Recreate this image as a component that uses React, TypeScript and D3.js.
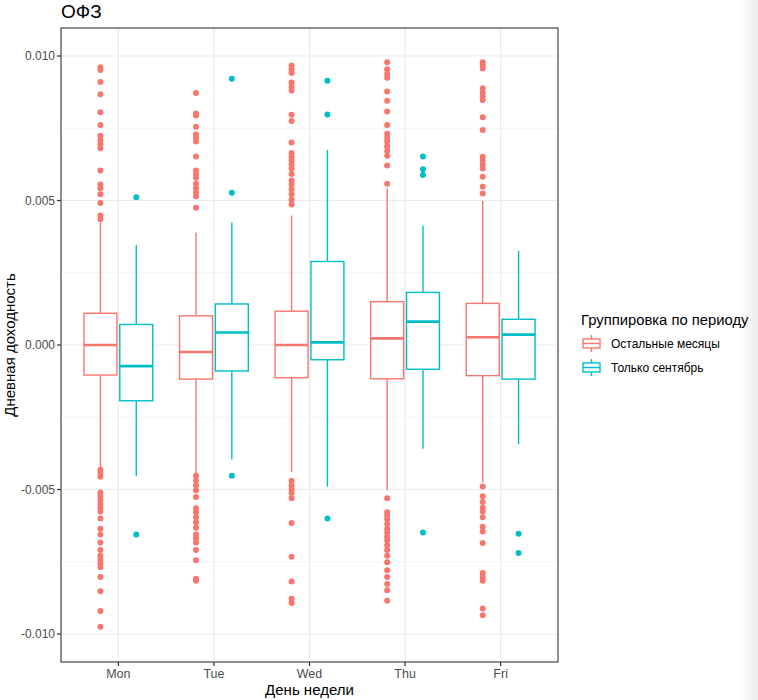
import React from "react";
import * as d3 from "d3";

const days = ["Mon", "Tue", "Wed", "Thu", "Fri"];
const groups = ["Остальные месяцы", "Только сентябрь"];
const groupColors = ["#F8766D", "#00BFC4"];
const yTicks = [-0.01, -0.005, 0, 0.005, 0.01];
const yTickLabels = ["-0.010", "-0.005", "0.000", "0.005", "0.010"];
const yMinorTicks = [-0.0075, -0.0025, 0.0025, 0.0075];

// Остальные месяцы
const otherQ1 = [-0.00104, -0.00118, -0.00113, -0.00117, -0.00106];
const otherMedian = [0.0, -0.00024, 0.0, 0.00023, 0.00027];
const otherQ3 = [0.0011, 0.00101, 0.00117, 0.0015, 0.00144];
const otherLow = [-0.00427, -0.00443, -0.0044, -0.00503, -0.00476];
const otherHigh = [0.00424, 0.00389, 0.00448, 0.00542, 0.00499];
const otherOutMon = [0.00961, 0.00952, 0.0091, 0.00868, 0.00805, 0.00761, 0.00724, 0.00708, 0.00695, 0.00681, 0.00604, 0.00555, 0.00542, 0.00522, 0.00491, 0.00448, 0.00435, -0.00432, -0.00443, -0.00456, -0.0051, -0.00523, -0.00536, -0.0055, -0.00563, -0.00576, -0.006, -0.00636, -0.00656, -0.00683, -0.00709, -0.00729, -0.00743, -0.00756, -0.00769, -0.00803, -0.00852, -0.0092, -0.00975];
const otherOutTue = [0.00872, 0.00801, 0.00794, 0.00755, 0.00728, 0.00717, 0.00704, 0.00652, 0.00604, 0.00592, 0.00579, 0.00558, 0.00542, 0.00528, 0.00515, 0.00475, -0.00452, -0.0047, -0.00486, -0.00503, -0.00526, -0.00565, -0.00579, -0.00596, -0.00613, -0.00632, -0.00656, -0.00669, -0.00683, -0.00709, -0.00745, -0.00809, -0.00816];
const otherOutWed = [0.00967, 0.00954, 0.00941, 0.00908, 0.00894, 0.00881, 0.00797, 0.00775, 0.00701, 0.00664, 0.00651, 0.00638, 0.00625, 0.00611, 0.00592, 0.00569, 0.00555, 0.00539, 0.00522, 0.00503, 0.00486, -0.0047, -0.00486, -0.00499, -0.00512, -0.0053, -0.00616, -0.00733, -0.00818, -0.00878, -0.00893];
const otherOutThu = [0.00978, 0.00954, 0.00938, 0.00925, 0.00877, 0.00845, 0.00808, 0.00761, 0.00731, 0.00717, 0.00704, 0.00688, 0.00672, 0.00655, 0.00621, 0.00558, -0.0053, -0.00579, -0.0059, -0.00603, -0.00619, -0.00636, -0.00649, -0.00663, -0.00676, -0.00693, -0.00709, -0.00729, -0.00752, -0.00779, -0.00803, -0.00827, -0.00849, -0.00885];
const otherOutFri = [0.00978, 0.00967, 0.00957, 0.00888, 0.00874, 0.00861, 0.00848, 0.00788, 0.00744, 0.00651, 0.00638, 0.00625, 0.00611, 0.00582, 0.00548, 0.00524, -0.0049, -0.00523, -0.00543, -0.00563, -0.00576, -0.00596, -0.00629, -0.00645, -0.00685, -0.00789, -0.00803, -0.00816, -0.00912, -0.00935];

// Только сентябрь
const septQ1 = [-0.00193, -0.0009, -0.00051, -0.00084, -0.00118];
const septMedian = [-0.00073, 0.00043, 0.00009, 0.00081, 0.00036];
const septQ3 = [0.00071, 0.00142, 0.00289, 0.00182, 0.00089];
const septLow = [-0.00453, -0.00396, -0.0049, -0.00359, -0.00343];
const septHigh = [0.00346, 0.00424, 0.00675, 0.00413, 0.00326];
const septOutMon = [0.00511, -0.00656];
const septOutTue = [0.00921, 0.00527, -0.00452];
const septOutWed = [0.00914, 0.00798, -0.006];
const septOutThu = [0.00652, 0.00608, 0.00588, -0.00649];
const septOutFri = [-0.00653, -0.0072];

const W = 758;
const H = 700;
const panel = { left: 61, right: 558, top: 28, bottom: 662 };
const FONT = "'Liberation Sans', Arial, Helvetica, sans-serif";

export default function App() {
  const x = d3.scalePoint<string>().domain(days).range([panel.left, panel.right]).padding(0.6);
  const step = x.step();
  const y = d3.scaleLinear().domain([-0.010969, 0.010969]).range([panel.bottom, panel.top]);
  const offset = d3.scalePoint<string>().domain(groups).range([-0.1875 * step, 0.1875 * step]);
  const boxW = 0.345 * step;

  const series = [
    { name: groups[0], color: groupColors[0], q1: otherQ1, med: otherMedian, q3: otherQ3, lo: otherLow, hi: otherHigh, out: [otherOutMon, otherOutTue, otherOutWed, otherOutThu, otherOutFri] },
    { name: groups[1], color: groupColors[1], q1: septQ1, med: septMedian, q3: septQ3, lo: septLow, hi: septHigh, out: [septOutMon, septOutTue, septOutWed, septOutThu, septOutFri] },
  ];

  const grid = "#EBEBEB";
  const tickCol = "#4D4D4D";
  const lw = 1.4;

  return (
    <svg width={W} height={H} style={{ position: "absolute", left: 0, top: 0, background: "#fff" }} fontFamily={FONT}>
      <defs>
        <linearGradient id="edge" x1="0" x2="1" y1="0" y2="0">
          <stop offset="0" stopColor="#ffffff" />
          <stop offset="1" stopColor="#ececec" />
        </linearGradient>
      </defs>
      <rect x={0} y={0} width={W} height={H} fill="#fff" />
      <rect x={740} y={0} width={18} height={H} fill="url(#edge)" />
      {/* title */}
      <text x={61} y={18} fontSize={19} fill="#000">ОФЗ</text>
      {/* panel grid */}
      <g>
        {yMinorTicks.map((t) => (
          <line key={"mn" + t} x1={panel.left} x2={panel.right} y1={y(t)} y2={y(t)} stroke={grid} strokeWidth={0.6} />
        ))}
        {yTicks.map((t) => (
          <line key={"mj" + t} x1={panel.left} x2={panel.right} y1={y(t)} y2={y(t)} stroke={grid} strokeWidth={1.2} />
        ))}
        {days.map((d) => (
          <line key={"vx" + d} x1={x(d)} x2={x(d)} y1={panel.top} y2={panel.bottom} stroke={grid} strokeWidth={1.2} />
        ))}
      </g>
      {/* boxes */}
      {series.map((s) => (
        <g key={s.name}>
          {days.map((d, i) => {
            const cx = (x(d) as number) + (offset(s.name) as number);
            return (
              <g key={d}>
                <line x1={cx} x2={cx} y1={y(s.q3[i])} y2={y(s.hi[i])} stroke={s.color} strokeWidth={lw} />
                <line x1={cx} x2={cx} y1={y(s.q1[i])} y2={y(s.lo[i])} stroke={s.color} strokeWidth={lw} />
                <rect x={cx - boxW / 2} y={y(s.q3[i])} width={boxW} height={y(s.q1[i]) - y(s.q3[i])} fill="#fff" stroke={s.color} strokeWidth={lw} />
                <line x1={cx - boxW / 2} x2={cx + boxW / 2} y1={y(s.med[i])} y2={y(s.med[i])} stroke={s.color} strokeWidth={2.6} />
                {s.out[i].map((v, j) => (
                  <circle key={j} cx={cx} cy={y(v)} r={3} fill={s.color} />
                ))}
              </g>
            );
          })}
        </g>
      ))}
      {/* panel border */}
      <rect x={panel.left} y={panel.top} width={panel.right - panel.left} height={panel.bottom - panel.top} fill="none" stroke="#444444" strokeWidth={1.2} />
      {/* y axis */}
      {yTicks.map((t, i) => (
        <g key={"yt" + t}>
          <line x1={panel.left - 4} x2={panel.left} y1={y(t)} y2={y(t)} stroke="#333333" strokeWidth={1.2} />
          <text x={panel.left - 6} y={y(t)} dy="0.35em" textAnchor="end" fontSize={12} fill={tickCol}>{yTickLabels[i]}</text>
        </g>
      ))}
      {/* x axis */}
      {days.map((d) => (
        <g key={"xt" + d}>
          <line x1={x(d)} x2={x(d)} y1={panel.bottom} y2={panel.bottom + 4} stroke="#333333" strokeWidth={1.2} />
          <text x={x(d)} y={panel.bottom + 16} textAnchor="middle" fontSize={12.5} fill={tickCol}>{d}</text>
        </g>
      ))}
      <text x={(panel.left + panel.right) / 2} y={695} textAnchor="middle" fontSize={15} fill="#000">День недели</text>
      <text transform={`translate(15, ${(panel.top + panel.bottom) / 2}) rotate(-90)`} textAnchor="middle" fontSize={15} fill="#000">Дневная доходность</text>
      {/* legend */}
      <text x={581} y={325} fontSize={14.8} fill="#000">Группировка по периоду</text>
      {series.map((s, i) => {
        const ky = 335 + i * 24;
        const kx = 583;
        const kw = 17;
        const kh = 17;
        return (
          <g key={"lg" + s.name}>
            <line x1={kx + kw / 2} x2={kx + kw / 2} y1={ky} y2={ky + kh} stroke={s.color} strokeWidth={lw} />
            <rect x={kx} y={ky + 4} width={kw} height={kh - 8} fill="#fff" stroke={s.color} strokeWidth={lw} />
            <line x1={kx} x2={kx + kw} y1={ky + kh / 2} y2={ky + kh / 2} stroke={s.color} strokeWidth={lw} />
            <text x={611} y={ky + kh / 2} dy="0.35em" fontSize={12} fill="#000">{s.name}</text>
          </g>
        );
      })}
    </svg>
  );
}
